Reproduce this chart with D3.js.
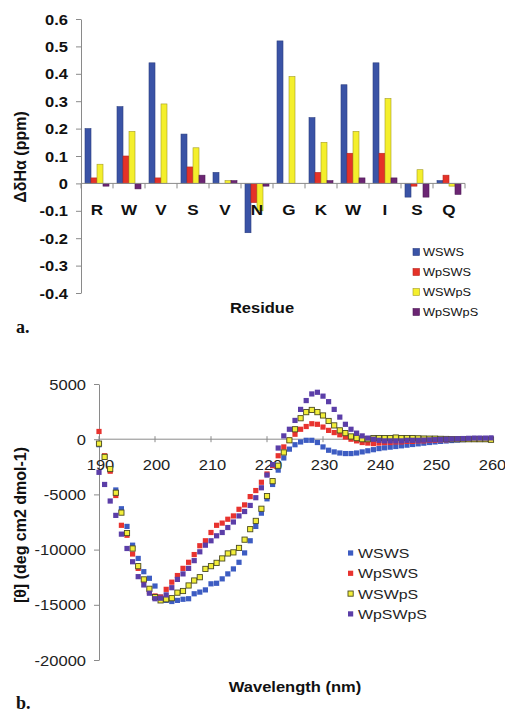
<!DOCTYPE html>
<html><head><meta charset="utf-8">
<script src="https://cdn.jsdelivr.net/npm/d3@7/dist/d3.min.js"></script>
<style>body{margin:0;background:#fff}</style>
</head><body>
<svg id="c" width="505" height="714"></svg>
<script>
// ---------- Panel a data ----------
const residues = ["R","W","V","S","V","N","G","K","W","I","S","Q"];
const barSeries = ["WSWS","WpSWS","WSWpS","WpSWpS"];
const shiftWSWS   = [0.20, 0.28, 0.44, 0.18, 0.04, -0.18, 0.52, 0.24, 0.36, 0.44, -0.05, 0.01];
const shiftWpSWS  = [0.02, 0.10, 0.02, 0.06, 0.00, -0.07, 0.00, 0.04, 0.11, 0.11, -0.01, 0.03];
const shiftWSWpS  = [0.07, 0.19, 0.29, 0.13, 0.01, -0.10, 0.39, 0.15, 0.19, 0.31, 0.05, -0.01];
const shiftWpSWpS = [-0.01, -0.02, 0.00, 0.03, 0.01, -0.01, 0.00, 0.01, 0.02, 0.02, -0.05, -0.04];
const yTicksA = [0.6,0.5,0.4,0.3,0.2,0.1,0,-0.1,-0.2,-0.3,-0.4];
const yTickLabelsA = ["0.6","0.5","0.4","0.3","0.2","0.1","0","-0.1","-0.2","-0.3","-0.4"];

// ---------- Panel b data ----------
const wavelengths = [190,191,192,193,194,195,196,197,198,199,200,201,202,203,204,205,206,207,208,209,210,211,212,213,214,215,216,217,218,219,220,221,222,223,224,225,226,227,228,229,230,231,232,233,234,235,236,237,238,239,240,241,242,243,244,245,246,247,248,249,250,251,252,253,254,255,256,257,258,259,260];
const cdWSWS = [-500,-1600,-2800,-4600,-6300,-7900,-9600,-10800,-12000,-12600,-13300,-14300,-14600,-14700,-14600,-14500,-14450,-14000,-13850,-13650,-13100,-13050,-12650,-12200,-11750,-11150,-10300,-9200,-7900,-6700,-5400,-4100,-2800,-1700,-900,-500,-250,-100,-100,-300,-700,-1000,-1150,-1250,-1300,-1300,-1250,-1150,-1050,-950,-850,-780,-720,-660,-600,-540,-480,-420,-360,-300,-250,-200,-160,-120,-80,-40,0,0,30,30,50];
const cdWpSWS = [700,-1500,-2900,-5100,-7800,-8700,-10400,-11700,-12800,-13800,-14200,-14300,-13600,-12950,-12350,-11700,-11150,-10450,-9650,-9200,-8450,-7800,-7600,-7250,-6950,-6350,-5950,-5200,-4650,-3900,-3150,-2400,-1500,-700,-100,450,900,1150,1400,1350,1100,800,600,400,200,0,-150,-300,-350,-400,-350,-300,-300,-250,-250,-200,-200,-150,-150,-100,-100,-50,-50,0,0,0,0,0,0,0,0];
const cdWSWpS = [-400,-1600,-2700,-4850,-6650,-8500,-9900,-11500,-12700,-13550,-14300,-14600,-14500,-14400,-13900,-13750,-13250,-12800,-12500,-11750,-11500,-11200,-10800,-10350,-10250,-9850,-9100,-8150,-7400,-6300,-5150,-3800,-2400,-1200,-100,900,1900,2450,2650,2450,2150,1650,1250,800,550,250,100,0,0,100,100,100,100,150,100,100,100,80,60,50,50,30,20,0,0,0,0,0,0,0,-50];
const cdWpSWpS = [-3000,-4100,-5600,-6900,-8600,-9900,-11100,-12450,-13200,-13950,-14450,-14400,-14100,-13450,-12700,-12200,-11700,-11000,-10200,-9600,-9200,-8750,-8450,-8000,-7500,-6950,-6550,-6000,-5300,-4400,-3250,-2300,-800,300,900,1700,2700,3500,4100,4250,3900,3400,2700,2000,1350,900,550,300,100,0,-100,-150,-150,-150,-150,-100,-100,-100,-80,-60,-40,-20,0,20,40,60,80,100,100,100,120];
const cdSeries = ["WSWS","WpSWS","WSWpS","WpSWpS"];
const xTicksB = [190,200,210,220,230,240,250,260];
const yTicksB = [5000,0,-5000,-10000,-15000,-20000];
const yTickLabelsB = ["5000","0","-5000","-10000","-15000","-20000"];

// ---------- styling ----------
const FONT = "'Liberation Sans', Arial, sans-serif";
const SX = 1.18;
const barFill = ["#3a53a6","#e53228","#f4ef2c","#6b2573"];
const barStroke = ["#2c3f80","#b8261f","#a39c26","#4e1a55"];
const ptFill = ["#3d5cc2","#e8332f","#f2ee3a","#5b3ea8"];
const ptStroke = ["none","none","#4a4a20","none"];
const axisCol = "#8a8a8a";

const svg = d3.select("#c");

function label(g, x, y, str, size, weight, anchor, sx) {
  return g.append("text")
    .attr("transform", `translate(${x},${y}) scale(${sx},1)`)
    .attr("font-family", FONT).attr("font-size", size)
    .attr("font-weight", weight).attr("text-anchor", anchor)
    .attr("fill", "#111").text(str);
}

// =================== Panel a ===================
const ga = svg.append("g");
const xA = d3.scaleBand().domain(d3.range(residues.length)).range([81, 465]);
const xSub = d3.scaleBand().domain(barSeries).range([4, 28]);
const yA = d3.scaleLinear().domain([-0.4, 0.6]).range([293, 19]);
const barData = [shiftWSWS, shiftWpSWS, shiftWSWpS, shiftWpSWpS];

barSeries.forEach((s, si) => {
  ga.append("g").selectAll("rect").data(barData[si]).join("rect")
    .attr("x", (d, i) => xA(i) + xSub(s))
    .attr("width", xSub.bandwidth())
    .attr("y", d => yA(Math.max(0, d)))
    .attr("height", d => Math.abs(yA(d) - yA(0)))
    .attr("fill", barFill[si])
    .attr("stroke", barStroke[si]).attr("stroke-width", 0.6);
});

// y axis
const yAxisA = ga.append("g").attr("transform", "translate(81,0)")
  .call(d3.axisLeft(yA).tickValues(yTicksA).tickSize(5).tickSizeOuter(0)
    .tickFormat((d, i) => yTickLabelsA[i]));
yAxisA.select(".domain").attr("stroke", axisCol);
yAxisA.selectAll(".tick line").attr("stroke", axisCol);
yAxisA.selectAll(".tick text")
  .attr("x", 0).attr("dy", "0.36em")
  .attr("transform", `translate(-13,0) scale(${SX},1)`)
  .attr("font-family", FONT).attr("font-size", 14).attr("font-weight", "bold").attr("fill", "#111");

// x axis at zero
ga.append("line").attr("x1", 81).attr("x2", 465).attr("y1", yA(0)).attr("y2", yA(0))
  .attr("stroke", axisCol);
ga.append("g").selectAll("line").data(d3.range(residues.length + 1)).join("line")
  .attr("x1", i => 81 + i * xA.bandwidth()).attr("x2", i => 81 + i * xA.bandwidth())
  .attr("y1", yA(0)).attr("y2", yA(0) + 5).attr("stroke", axisCol);
residues.forEach((r, i) => {
  label(ga, xA(i) + xA.bandwidth() / 2, 215, r, 14.5, "bold", "middle", SX);
});

// titles
ga.append("text").attr("transform", "translate(26,157) rotate(-90)")
  .attr("font-family", FONT).attr("font-size", 16).attr("font-weight", "bold")
  .attr("text-anchor", "middle").attr("fill", "#111").text("ΔδHα (ppm)");
label(ga, 262, 313, "Residue", 14, "bold", "middle", SX);
ga.append("text").attr("x", 16).attr("y", 333)
  .attr("font-family", "'Liberation Serif', 'Times New Roman', serif")
  .attr("font-size", 18).attr("font-weight", "bold").attr("fill", "#111").text("a.");

// legend a
const legA = ga.append("g");
barSeries.forEach((s, i) => {
  const cy = 252 + i * 20;
  legA.append("rect").attr("x", 413).attr("y", cy - 3.5).attr("width", 6.5).attr("height", 7)
    .attr("fill", barFill[i]).attr("stroke", barStroke[i]).attr("stroke-width", 0.6);
  label(legA, 423, cy + 4, s, 10.8, "normal", "start", SX);
});

// =================== Panel b ===================
const gb = svg.append("g");
const xB = d3.scaleLinear().domain([190, 260]).range([99, 491]);
const yB = d3.scaleLinear().domain([-20000, 5000]).range([660, 384]);
const cdData = [cdWSWS, cdWpSWS, cdWSWpS, cdWpSWpS];

// y axis
const yAxisB = gb.append("g").attr("transform", "translate(99,0)")
  .call(d3.axisLeft(yB).tickValues(yTicksB).tickSize(5).tickSizeOuter(0)
    .tickFormat((d, i) => yTickLabelsB[i]));
yAxisB.select(".domain").attr("stroke", axisCol);
yAxisB.selectAll(".tick line").attr("stroke", axisCol);
yAxisB.selectAll(".tick text")
  .attr("x", 0).attr("dy", "0.36em")
  .attr("transform", `translate(-13,0) scale(${SX},1)`)
  .attr("font-family", FONT).attr("font-size", 14).attr("fill", "#222");

// x axis at zero
const y0 = yB(0);
gb.append("line").attr("x1", 99).attr("x2", 491).attr("y1", y0).attr("y2", y0).attr("stroke", axisCol);
gb.append("g").selectAll("line").data(xTicksB).join("line")
  .attr("x1", d => xB(d)).attr("x2", d => xB(d))
  .attr("y1", y0 - 3).attr("y2", y0 + 3).attr("stroke", axisCol);
xTicksB.forEach(t => {
  label(gb, xB(t) + 1.5, 470, String(t), 14, "normal", "middle", SX).attr("fill", "#222");
});

// points
cdSeries.forEach((s, si) => {
  gb.append("g").selectAll("rect").data(cdData[si]).join("rect")
    .attr("x", (d, i) => xB(wavelengths[i]) - 2.6)
    .attr("y", d => yB(d) - 2.6)
    .attr("width", 5.2).attr("height", 5.2)
    .attr("fill", ptFill[si])
    .attr("stroke", ptStroke[si]).attr("stroke-width", 0.9);
});

// titles
gb.append("text").attr("transform", "translate(26,525) rotate(-90)")
  .attr("font-family", FONT).attr("font-size", 16).attr("font-weight", "bold")
  .attr("text-anchor", "middle").attr("fill", "#111").text("[θ] (deg cm2 dmol-1)");
label(gb, 295, 692, "Wavelength (nm)", 14, "bold", "middle", SX);
gb.append("text").attr("x", 16).attr("y", 709)
  .attr("font-family", "'Liberation Serif', 'Times New Roman', serif")
  .attr("font-size", 18).attr("font-weight", "bold").attr("fill", "#111").text("b.");

// legend b
cdSeries.forEach((s, i) => {
  const cy = 553 + i * 20.3;
  gb.append("rect").attr("x", 348).attr("y", cy - 2.6).attr("width", 5.2).attr("height", 5.2)
    .attr("fill", ptFill[i]).attr("stroke", ptStroke[i]).attr("stroke-width", 0.9);
  label(gb, 358, cy + 5, s, 13.5, "normal", "start", SX).attr("fill", "#222");
});
</script>
</body></html>
